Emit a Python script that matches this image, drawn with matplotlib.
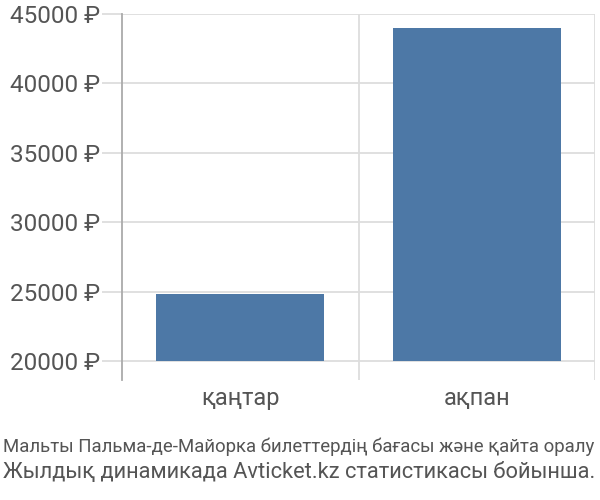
import matplotlib
matplotlib.use('Agg')
import matplotlib.pyplot as plt
from matplotlib.ticker import FuncFormatter

plt.rcParams['font.family'] = ['Roboto', 'DejaVu Sans']

months = ['қаңтар', 'ақпан']
prices = [24850, 44000]
y_ticks = [20000, 25000, 30000, 35000, 40000, 45000]
caption1 = 'Мальты Пальма-де-Майорка билеттердің бағасы және қайта оралу'
caption2 = 'Жылдық динамикада Avticket.kz статистикасы бойынша.'

fig = plt.figure(figsize=(6, 5), dpi=100)
# axes box in pixels: x 122..595, y 14..380 (from top)
ax = fig.add_axes([122 / 600, 1 - 380 / 500, 473 / 600, 366 / 500])

base = 20000
ax.bar(range(len(months)), [p - base for p in prices], bottom=base,
       width=0.71, color='#4d78a6', zorder=3)

ax.set_xlim(-0.5, len(months) - 0.5)
ax.set_ylim(18630, 45000)
ax.set_yticks(y_ticks)
ax.yaxis.set_major_formatter(FuncFormatter(lambda v, p: '%d ₽' % v))
ax.grid(axis='y', color='#dddddd', linewidth=1.3, zorder=0)

# category boundaries as vertical lines
ax.set_xticks([0, 1])
ax.set_xticklabels(months)
ax.set_xticks([0.5, 1.5], minor=True)
ax.grid(axis='x', which='minor', color='#dddddd', linewidth=1.3, zorder=0)
ax.tick_params(axis='x', which='major', length=0, pad=5, labelsize=17,
               labelcolor='#555555')
ax.tick_params(axis='x', which='minor', length=0)
ax.tick_params(axis='y', length=14.4, color='#dddddd', width=1.3, pad=1,
               labelsize=17.5, labelcolor='#555555')

for s in ['top', 'right', 'bottom']:
    ax.spines[s].set_visible(False)
ax.spines['left'].set_color('#aaaaaa')
ax.spines['left'].set_linewidth(1.3)

# caption lines, shrunk to fit the figure width
renderer = fig.canvas.get_renderer()
for txt, ypix in [(caption1, 447), (caption2, 473)]:
    t = fig.text(3 / 600, 1 - ypix / 500, txt, fontsize=16,
                 color='#555555', va='center', ha='left')
    w = t.get_window_extent(renderer).width
    t.set_fontsize(16 * 595 / w)

fig.savefig('out.png', dpi=100)
